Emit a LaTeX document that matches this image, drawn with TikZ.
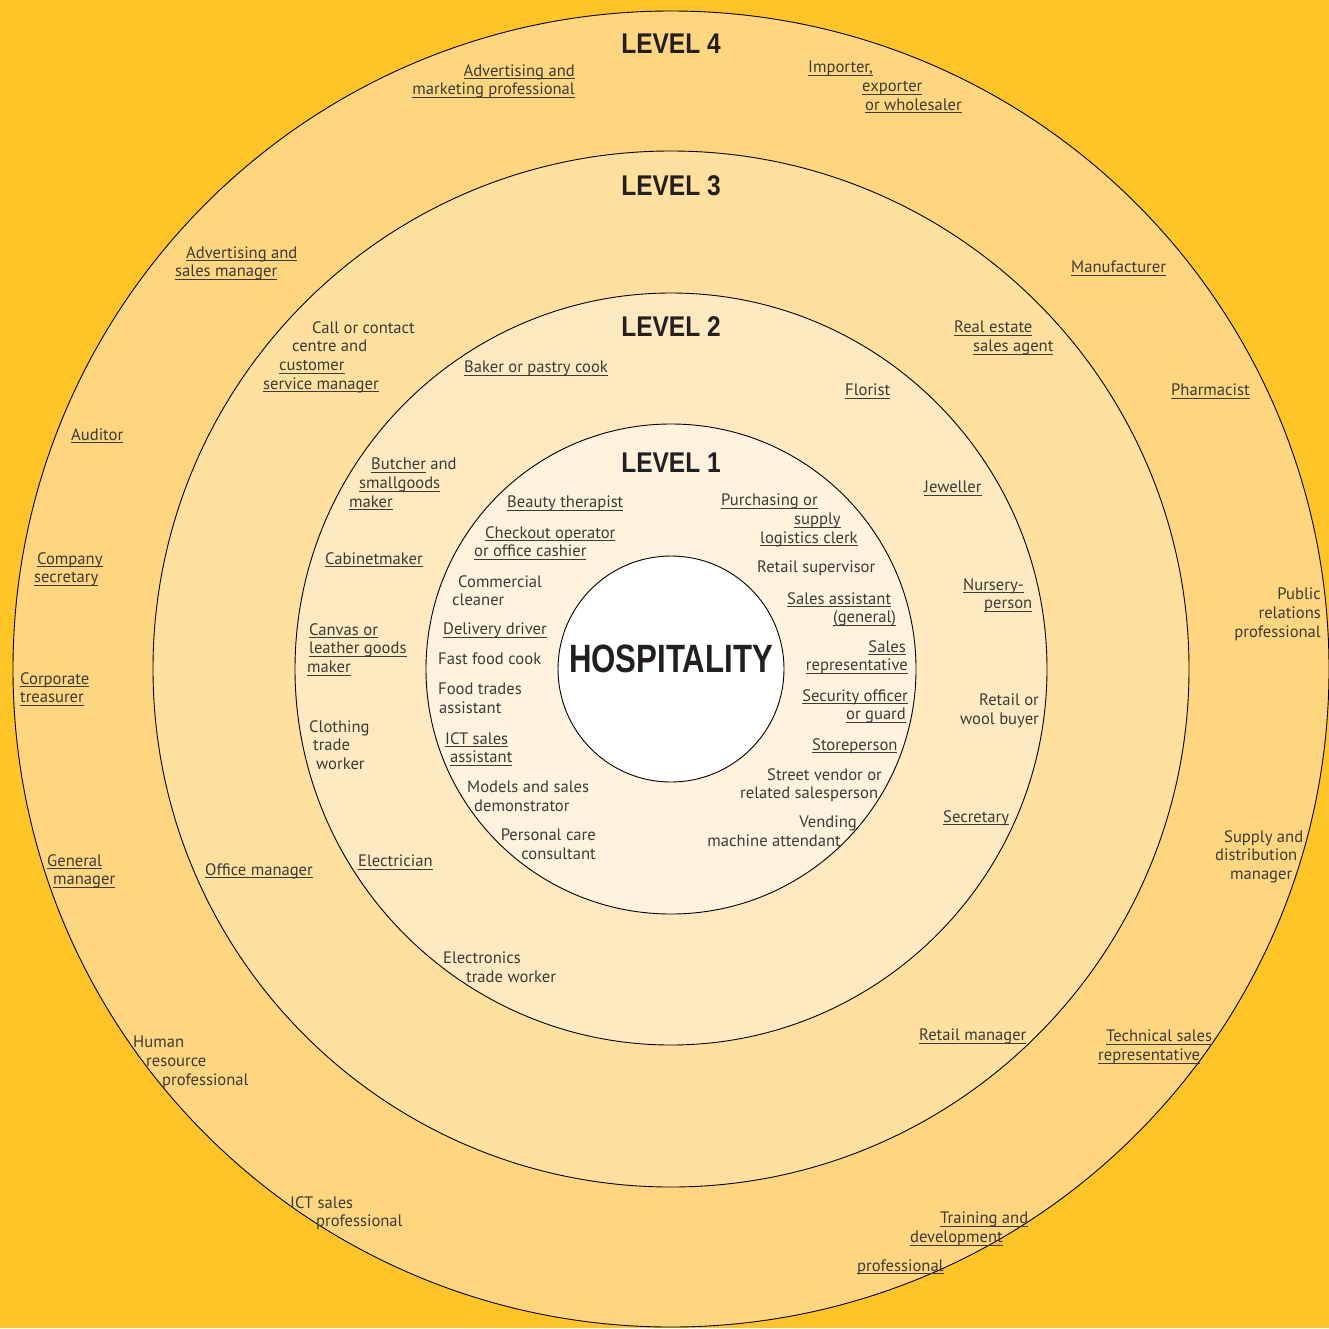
\documentclass[tikz,border=0pt]{standalone}
\usepackage{fontspec}
\setmainfont{PT Sans}
\newfontfamily\headfont[FakeStretch=0.86]{Liberation Sans}
\newfontfamily\hubfont[FakeStretch=0.79]{Liberation Sans}
\usepackage{tikz}
\usetikzlibrary{positioning}

\definecolor{bgyellow}{HTML}{FFC425}
\definecolor{ringfour}{HTML}{FFD680}
\definecolor{ringthree}{HTML}{FFE09F}
\definecolor{ringtwo}{HTML}{FFE9C0}
\definecolor{ringone}{HTML}{FFF3DD}
\definecolor{txt}{HTML}{3C3A36}
\definecolor{headc}{HTML}{231F20}

% underlined job title
\newcommand\lnk[1]{\setbox0=\hbox{#1}\rlap{\rule[-2.8pt]{\wd0}{0.9pt}}\box0\relax}

\begin{document}
\begin{tikzpicture}[x=1pt,y=-1pt,
	ring/.style={draw=black, line width=0.9pt},
	job/.style={font=\fontsize{16.6}{18.8}\selectfont, text=txt, inner sep=0pt, anchor=north west, align=left},
	jobr/.style={job, anchor=north east, align=right},
	lvl/.style={font=\headfont\bfseries\fontsize{28.5}{28}\selectfont, text=headc, inner sep=0pt}]
	\useasboundingbox (0,0) rectangle (1329,1328);
	\fill[bgyellow] (0,0) rectangle (1329,1328);
	\coordinate (c) at (671,669);

	% rings
	\draw[ring, fill=ringfour] (c) circle[radius=658pt];
	\draw[ring, fill=ringthree] (c) circle[radius=518pt];
	\draw[ring, fill=ringtwo] (c) circle[radius=376pt];
	\draw[ring, fill=ringone] (c) circle[radius=245pt];
	\draw[ring, fill=white] (c) circle[radius=113pt];

	\node (hub) at (671,659) {\hubfont\bfseries\fontsize{39.5}{39}\selectfont\color{headc}HOSPITALITY};

	% headings
	\node[lvl] (lvlfour) at (671,44) {LEVEL 4};
	\node[lvl] (lvlthree) at (671,186) {LEVEL 3};
	\node[lvl] (lvltwo) at (671,327) {LEVEL 2};
	\node[lvl] (lvlone) at (671,463) {LEVEL 1};

	% level 4
	\node[jobr] (advmkt) at (575,64) {\lnk{Advertising and}\\\lnk{marketing professional}};
	\node[job] (importer) at (808,61) {\lnk{Importer,}\\\hspace*{54pt}\lnk{exporter}\\\hspace*{57pt}\lnk{or wholesaler}};
	\node[job] (manufacturer) at (1071,261) {\lnk{Manufacturer}};
	\node[job] (pharmacist) at (1171,384) {\lnk{Pharmacist}};
	\node[jobr] (pubrel) at (1321,588) {Public\\relations\\professional};
	\node[job] (supplymgr) at (1215,830) {\hspace*{9pt}Supply and\\distribution\\\hspace*{15pt}manager};
	\node[job] (techsales) at (1098,1030) {\hspace*{8pt}\lnk{Technical sales}\\\lnk{representative}};
	\node[job] (training) at (857,1212) {\hspace*{83pt}\lnk{Training and}\\\hspace*{53pt}\lnk{development}\\[10pt]\lnk{professional}};
	\node[job] (ictprof) at (290,1196) {ICT sales\\\hspace*{26pt}professional};
	\node[job] (hrprof) at (133,1036) {Human\\\hspace*{13pt}resource\\\hspace*{29pt}professional};
	\node[job] (genmgr) at (47,854) {\lnk{General}\\\hspace*{6pt}\lnk{manager}};
	\node[job] (corptreas) at (20,672) {\lnk{Corporate}\\\lnk{treasurer}};
	\node[job] (compsec) at (34,552) {\hspace*{3pt}\lnk{Company}\\\lnk{secretary}};
	\node[job] (auditor) at (71,428) {\lnk{Auditor}};
	\node[job] (advsales) at (175,246) {\hspace*{11pt}\lnk{Advertising and}\\\lnk{sales manager}};

	% level 3
	\node[job] (callcentre) at (263,321) {\hspace*{49pt}Call or contact\\\hspace*{29pt}centre and\\\hspace*{16pt}\lnk{customer}\\\lnk{service manager}};
	\node[job] (realestate) at (954,321) {\lnk{Real estate}\\\hspace*{19pt}\lnk{sales agent}};
	\node[job] (officemgr) at (205,863) {\lnk{Office manager}};
	\node[job] (retailmgr) at (919,1029) {\lnk{Retail manager}};

	% level 2
	\node[job] (baker) at (464,361) {\lnk{Baker or pastry cook}};
	\node[job] (florist) at (845,384) {\lnk{Florist}};
	\node[job] (jeweller) at (924,481) {\lnk{Jeweller}};
	\node[job] (nursery) at (963,578) {\lnk{Nursery-}\\\hspace*{21pt}\lnk{person}};
	\node[jobr] (woolbuyer) at (1039,694) {Retail or\\wool buyer};
	\node[job] (secretary) at (943,810) {\lnk{Secretary}};
	\node[job] (electronics) at (443,952) {Electronics\\\hspace*{23pt}trade worker};
	\node[job] (electrician) at (358,855) {\lnk{Electrician}};
	\node[job] (clothing) at (309,720) {Clothing\\\hspace*{4pt}trade\\\hspace*{7pt}worker};
	\node[job] (canvas) at (307,623) {\hspace*{2pt}\lnk{Canvas or}\\\hspace*{2pt}\lnk{leather goods}\\\lnk{maker}};
	\node[job] (cabinet) at (325,552) {\lnk{Cabinetmaker}};
	\node[job] (butcher) at (349,458) {\hspace*{22pt}\lnk{Butcher} and\\\hspace*{10pt}\lnk{smallgoods}\\\lnk{maker}};

	% level 1
	\node[job] (beauty) at (507,496) {\lnk{Beauty therapist}};
	\node[job] (checkout) at (474,526) {\hspace*{11pt}\lnk{Checkout operator}\\\lnk{or office cashier}};
	\node[job] (cleaner) at (452,575) {\hspace*{6pt}Commercial\\cleaner};
	\node[job] (delivery) at (443,623) {\lnk{Delivery driver}};
	\node[job] (fastfood) at (438,653) {Fast food cook};
	\node[job] (foodtrades) at (438,683) {Food trades\\\hspace*{1pt}assistant};
	\node[job] (ictassist) at (445,732) {\lnk{ICT sales}\\\hspace*{5pt}\lnk{assistant}};
	\node[job] (models) at (467,781) {Models and sales\\\hspace*{7pt}demonstrator};
	\node[jobr] (perscare) at (596,829) {Personal care\\consultant};
	\node[jobr] (vending) at (857,816) {Vending\\machine attendant\hspace*{16pt}};
	\node[job] (street) at (740,768) {\hspace*{27pt}Street vendor or\\related salesperson};
	\node[job] (storeperson) at (812,738) {\lnk{Storeperson}};
	\node[jobr] (security) at (908,689) {\lnk{Security officer}\\\lnk{or guard}\hspace*{2pt}};
	\node[jobr] (salesrep) at (908,640) {\lnk{Sales}\hspace*{2pt}\\\lnk{representative}};
	\node[job] (salesassist) at (787,592) {\lnk{Sales assistant}\\\hspace*{46pt}\lnk{(general)}};
	\node[job] (retailsup) at (757,561) {Retail supervisor};
	\node[job] (purchasing) at (721,494) {\lnk{Purchasing or}\\\hspace*{73pt}\lnk{supply}\\\hspace*{39pt}\lnk{logistics clerk}};
\end{tikzpicture}
\end{document}
